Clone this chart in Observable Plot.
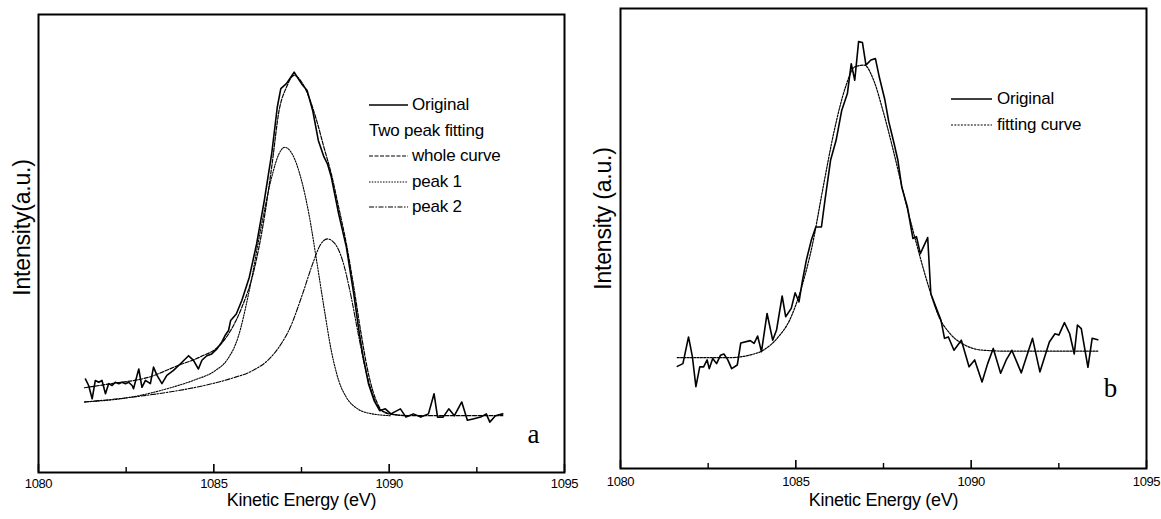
<!DOCTYPE html>
<html><head><meta charset="utf-8">
<script src="https://cdn.jsdelivr.net/npm/d3@7"></script>
<script src="https://cdn.jsdelivr.net/npm/@observablehq/plot@0.6"></script>
<style>
body{margin:0;background:#fff;}
#wrap{position:relative;width:1161px;height:519px;overflow:hidden;font-family:"Liberation Sans",Arial,sans-serif;}
.panel{position:absolute;top:0;}
.leg{position:absolute;font-size:17px;letter-spacing:-0.2px;color:#000;}
.row{position:absolute;white-space:nowrap;height:20px;line-height:20px;}
.row svg{position:absolute;top:5px;}
.row span{position:absolute;}
</style></head>
<body><div id="wrap"></div>
<script>
// ---------- data (Kinetic Energy eV, Intensity a.u.) ----------
const xTicksMajor = [1080, 1085, 1090, 1095];
const xTicksMinor = [1082.5, 1087.5, 1092.5];

const originalA = [[1081.34,20.4],[1081.43,19.0],[1081.53,16.1],[1081.62,20.1],[1081.72,19.7],[1081.81,20.1],[1081.91,17.2],[1082.00,19.4],[1082.10,19.0],[1082.19,19.7],[1082.29,19.4],[1082.38,19.7],[1082.48,19.4],[1082.57,19.7],[1082.67,19.0],[1082.71,18.3],[1082.81,21.2],[1082.86,22.6],[1082.95,18.6],[1083.05,20.1],[1083.19,19.4],[1083.28,23.0],[1083.38,21.2],[1083.52,19.4],[1083.66,21.2],[1083.85,22.3],[1084.04,23.7],[1084.28,25.5],[1084.42,24.5],[1084.56,22.6],[1084.66,24.5],[1084.80,25.5],[1084.94,25.9],[1085.09,27.0],[1085.23,28.5],[1085.32,29.9],[1085.42,31.0],[1085.48,33.2],[1085.64,34.6],[1085.80,37.6],[1086.01,42.6],[1086.22,49.9],[1086.44,59.4],[1086.65,69.6],[1086.81,79.8],[1086.91,83.8],[1087.07,84.9],[1087.29,87.4],[1087.50,84.9],[1087.66,83.4],[1087.82,79.0],[1087.98,72.5],[1088.14,68.9],[1088.24,67.4],[1088.35,64.5],[1088.56,56.5],[1088.78,49.2],[1088.99,39.0],[1089.15,30.3],[1089.26,25.2],[1089.41,19.4],[1089.57,15.7],[1089.73,13.5],[1089.89,13.9],[1090.05,12.8],[1090.32,13.9],[1090.48,12.1],[1090.69,12.8],[1090.90,12.1],[1091.12,12.8],[1091.28,17.2],[1091.38,12.1],[1091.54,12.1],[1091.70,13.9],[1091.86,12.4],[1092.07,15.4],[1092.23,11.4],[1092.39,11.7],[1092.61,12.1],[1092.77,12.8],[1092.87,11.0],[1093.03,12.4],[1093.24,12.8]];
const wholeA = [[1081.31,18.5],[1082.07,19.4],[1083.14,20.8],[1083.99,23.4],[1084.63,25.3],[1085.16,27.7],[1085.48,31.0],[1085.80,36.1],[1086.12,43.4],[1086.44,55.7],[1086.65,66.7],[1086.86,79.0],[1087.07,84.1],[1087.29,86.7],[1087.50,85.3],[1087.71,82.0],[1087.93,76.9],[1088.14,71.0],[1088.35,65.2],[1088.56,57.9],[1088.78,49.9],[1088.99,40.5],[1089.20,30.3],[1089.41,21.5],[1089.63,15.7],[1089.84,13.2],[1090.16,12.6],[1090.59,12.4],[1091.65,12.4],[1093.24,12.4]];
const peak1A = [[1081.31,15.4],[1082.61,16.4],[1083.67,18.3],[1084.41,20.1],[1085.05,22.3],[1085.37,24.5],[1085.69,29.5],[1086.01,39.7],[1086.33,52.8],[1086.65,64.5],[1086.86,69.6],[1087.02,71.0],[1087.23,69.6],[1087.50,63.8],[1087.71,56.5],[1087.93,46.3],[1088.14,36.1],[1088.35,26.6],[1088.56,20.1],[1088.78,16.4],[1089.10,13.9],[1089.52,12.8],[1090.05,12.4]];
const peak2A = [[1081.31,15.4],[1082.61,16.4],[1083.67,17.5],[1084.73,19.0],[1085.48,20.5],[1086.12,22.3],[1086.54,24.5],[1086.86,27.4],[1087.18,31.7],[1087.50,38.3],[1087.82,45.6],[1088.03,49.6],[1088.24,51.0],[1088.46,49.9],[1088.67,46.3],[1088.88,39.7],[1089.10,31.0],[1089.31,23.0],[1089.52,17.2],[1089.73,13.9],[1090.05,12.8],[1090.59,12.4]];

const originalB = [[1081.62,22.2],[1081.78,22.8],[1081.94,28.6],[1082.05,24.3],[1082.15,17.8],[1082.26,22.1],[1082.37,22.1],[1082.47,23.6],[1082.53,21.7],[1082.63,23.9],[1082.74,22.8],[1082.85,24.6],[1082.95,24.9],[1083.06,23.6],[1083.17,21.7],[1083.33,22.5],[1083.43,27.3],[1083.70,27.8],[1083.81,27.2],[1083.91,28.8],[1084.02,25.4],[1084.18,33.7],[1084.34,27.9],[1084.45,30.1],[1084.61,37.5],[1084.71,33.0],[1084.87,34.8],[1084.98,38.2],[1085.09,36.2],[1085.19,40.9],[1085.30,45.3],[1085.44,49.6],[1085.57,52.5],[1085.73,52.5],[1085.83,58.3],[1085.99,67.0],[1086.15,71.4],[1086.31,77.9],[1086.47,81.5],[1086.58,88.0],[1086.68,84.4],[1086.79,92.8],[1086.90,92.6],[1087.00,87.7],[1087.14,88.8],[1087.27,89.1],[1087.38,85.1],[1087.54,80.1],[1087.65,75.4],[1087.80,70.7],[1087.91,67.0],[1088.02,61.2],[1088.18,56.9],[1088.34,50.0],[1088.44,50.4],[1088.55,46.7],[1088.76,50.2],[1088.85,38.0],[1089.03,34.4],[1089.14,32.2],[1089.24,28.3],[1089.35,28.6],[1089.51,25.7],[1089.72,27.9],[1089.94,22.1],[1090.10,23.6],[1090.31,18.8],[1090.47,22.8],[1090.63,26.1],[1090.84,20.7],[1091.00,23.6],[1091.16,25.7],[1091.43,20.8],[1091.75,28.3],[1091.96,21.0],[1092.23,27.5],[1092.39,29.3],[1092.50,29.0],[1092.66,31.7],[1092.81,29.3],[1092.94,24.9],[1093.03,31.2],[1093.14,30.4],[1093.33,22.0],[1093.45,28.3],[1093.61,28.0]];
const fittingB = [[1081.62,24.1],[1083.11,24.1],[1083.65,24.6],[1084.07,25.7],[1084.50,28.6],[1084.82,32.2],[1085.14,38.8],[1085.46,48.2],[1085.78,61.2],[1086.10,73.6],[1086.42,83.0],[1086.68,87.3],[1086.95,87.7],[1087.22,84.4],[1087.48,77.9],[1087.80,68.5],[1088.12,58.3],[1088.44,48.9],[1088.76,40.2],[1089.08,33.0],[1089.40,29.3],[1089.83,26.8],[1090.36,25.7],[1091.11,25.5],[1092.18,25.5],[1093.61,25.5]];

const legendA = ["Original", "Two peak fitting", "whole curve", "peak 1", "peak 2"];
const legendB = ["Original", "fitting curve"];
// --------------------------------------------------------------

const FONT = "Liberation Sans, Arial, sans-serif";
const styles = {
  original: {stroke: "#000", strokeWidth: 1.6},
  whole:    {stroke: "#000", strokeWidth: 1.2, strokeDasharray: "4,1.5"},
  peak1:    {stroke: "#000", strokeWidth: 1.1, strokeDasharray: "1.5,1.3"},
  peak2:    {stroke: "#000", strokeWidth: 1.1, strokeDasharray: "5,1.5,1.5,1.5"},
  fitting:  {stroke: "#000", strokeWidth: 1.2, strokeDasharray: "2,1.3"}
};

function panel({left, width, height, mt, mb, ml, mr, series, ylabel, ylabDx, ylabDy, titleDy, tickPad, letter, letterDx, letterDy}) {
  const ph = height - mt - mb;
  const marks = [
    Plot.ruleX(xTicksMajor, {x: d => d, insetTop: ph - 8, stroke: "#000", strokeWidth: 1.6}),
    Plot.ruleX(xTicksMinor, {x: d => d, insetTop: ph - 5, stroke: "#000", strokeWidth: 1.4}),
    Plot.frame({stroke: "#000", strokeWidth: 2}),
    Plot.axisX({ticks: xTicksMajor, tickSize: 0, tickPadding: tickPad, tickFormat: d => String(d), label: null, fontSize: 13}),
    ...series.map(s => Plot.line(s.data, {x: d => d[0], y: d => d[1], curve: s.curve, ...styles[s.style]})),
    Plot.text([ylabel], {text: d => d, frameAnchor: "left", textAnchor: "middle", lineAnchor: "middle", rotate: -90, dx: ylabDx, dy: ylabDy, fontSize: 23}),
    Plot.text(["Kinetic Energy (eV)"], {text: d => d, frameAnchor: "bottom", textAnchor: "middle", lineAnchor: "middle", dy: titleDy, fontSize: 18}),
    Plot.text([letter], {text: d => d, frameAnchor: "bottom-right", textAnchor: "middle", lineAnchor: "middle", dx: letterDx, dy: letterDy, fontSize: 27, fontFamily: "Liberation Serif, Times New Roman, serif"})
  ];
  const svg = Plot.plot({
    width, height, marginTop: mt, marginBottom: mb, marginLeft: ml, marginRight: mr,
    x: {domain: [1080, 1095]},
    y: {domain: [0, 100], axis: null},
    style: {fontFamily: FONT, color: "#000", background: "transparent", overflow: "visible"},
    marks
  });
  svg.classList.add("panel");
  svg.style.left = left + "px";
  const sel = d3.select(svg);
  sel.selectAll('g[aria-label="x-axis tick label"] text').attr("letter-spacing", "-0.4px");
  const textGroups = sel.selectAll('g[aria-label="text"]').nodes();
  const spacing = ["-0.2px", "-0.3px", "0px"];
  textGroups.forEach((g, i) => d3.select(g).selectAll("text").attr("letter-spacing", spacing[i] || "0px"));
  return svg;
}

const wrap = document.getElementById("wrap");
wrap.appendChild(panel({
  left: 0, width: 580, height: 519, mt: 14, mb: 47, ml: 38, mr: 16,
  series: [
    {data: peak2A, style: "peak2", curve: "monotone-x"},
    {data: peak1A, style: "peak1", curve: "monotone-x"},
    {data: wholeA, style: "whole", curve: "monotone-x"},
    {data: originalA, style: "original", curve: "linear"}
  ],
  ylabel: "Intensity(a.u.)", ylabDx: -16, ylabDy: -16, titleDy: 28, tickPad: 6,
  letter: "a", letterDx: -31, letterDy: -38
}));
wrap.appendChild(panel({
  left: 580, width: 581, height: 519, mt: 8, mb: 51, ml: 40, mr: 15,
  series: [
    {data: fittingB, style: "fitting", curve: "monotone-x"},
    {data: originalB, style: "original", curve: "linear"}
  ],
  ylabel: "Intensity (a.u.)", ylabDx: -17, ylabDy: -20, titleDy: 32, tickPad: 8,
  letter: "b", letterDx: -36, letterDy: -80
}));

function legend(left, top, items, keys, lineLen, textX) {
  const div = document.createElement("div");
  div.className = "leg";
  div.style.left = left + "px"; div.style.top = top + "px";
  items.forEach((label, i) => {
    const row = document.createElement("div");
    row.className = "row";
    row.style.top = (i * 25.5) + "px";
    const k = keys[i];
    if (k) {
      const s = styles[k];
      row.innerHTML = `<svg width="${lineLen}" height="10"><line x1="0" y1="5" x2="${lineLen}" y2="5" stroke="#000" stroke-width="${s.strokeWidth}" ${s.strokeDasharray ? `stroke-dasharray="${s.strokeDasharray}"` : ""}/></svg>`;
    }
    const sp = document.createElement("span");
    sp.textContent = label;
    sp.style.left = (k ? textX : 0) + "px";
    row.appendChild(sp);
    div.appendChild(row);
  });
  wrap.appendChild(div);
}
legend(369, 95, legendA, ["original", null, "whole", "peak1", "peak2"], 39, 43);
legend(951, 89, legendB, ["original", "fitting"], 41, 46);
</script></body></html>
